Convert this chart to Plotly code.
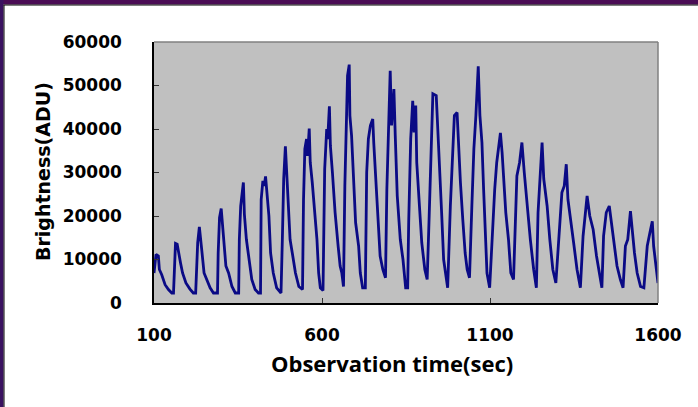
import plotly.graph_objects as go

# Observation time (sec) and brightness (ADU)
time_sec = [
    100, 103, 106, 113, 116, 123, 133, 143, 153, 158,
    160, 164, 169, 173, 179, 185, 195, 207, 217, 224,
    226, 230, 235, 238, 243, 249, 257, 267, 277, 289,
    291, 295, 300, 303, 308, 314, 322, 332, 342, 352,
    354, 358, 366, 369, 375, 382, 391, 401, 411, 417,
    419, 424, 428, 432, 436, 442, 447, 455, 465, 478,
    482, 486, 491, 494, 499, 505, 513, 521, 531, 542,
    545, 549, 554, 557, 562, 565, 571, 577, 585, 590, 595, 603,
    605, 608, 614, 617, 622, 625, 631, 639, 648, 654, 659, 664,
    668, 673, 676, 681, 683, 688, 694, 700, 709, 714, 721, 729,
    733, 738, 744, 751, 754, 763, 769, 773, 781, 789,
    793, 799, 803, 807, 814, 818, 824, 833, 841, 849, 855,
    858, 864, 870, 874, 879, 882, 890, 897, 906, 913,
    919, 925, 930, 940, 944, 949, 956, 962, 968, 974,
    982, 988, 994, 1002, 1006, 1012, 1019, 1026, 1032, 1039,
    1046, 1052, 1058, 1065, 1070, 1076, 1081, 1086, 1091, 1099,
    1106, 1114, 1120, 1126, 1131, 1136, 1141, 1147, 1155, 1162, 1170,
    1175, 1180, 1188, 1195, 1202, 1210, 1220, 1230, 1238,
    1243, 1250, 1255, 1260, 1270, 1278, 1287, 1296,
    1307, 1314, 1321, 1327, 1332, 1339, 1349, 1359, 1369,
    1377, 1383, 1389, 1397, 1407, 1417, 1425, 1433,
    1438, 1446, 1455, 1463, 1470, 1478, 1488, 1496,
    1503, 1510, 1518, 1523, 1530, 1538, 1548, 1558,
    1568, 1576, 1583, 1587, 1595, 1600,
]
brightness_adu = [
    6900, 10000, 11200, 10800, 7700, 6500, 4200, 3100, 2300, 2300,
    6900, 13700, 13500, 11500, 9200, 6900, 4600, 3200, 2300, 2300,
    7700, 13800, 17500, 14600, 11500, 6900, 5400, 3500, 2300, 2300,
    11500, 19600, 21700, 18800, 13800, 8500, 6900, 3800, 2300, 2300,
    14600, 22300, 27700, 20400, 14600, 10000, 5400, 3100, 2300, 2300,
    23800, 28100, 26900, 29100, 25400, 20000, 11500, 6900, 3500, 2300,
    14600, 28500, 36000, 31500, 24600, 14600, 10800, 6900, 3800, 3100,
    23800, 35400, 37700, 33800, 40100, 32300, 27700, 21500, 14600, 6900, 3500, 2900,
    14600, 30800, 40000, 37700, 45200, 36100, 30000, 20800, 13100, 8500, 6900, 3800,
    26900, 43800, 52300, 54800, 43100, 38500, 26900, 18500, 13100, 6900, 3500, 3500,
    30000, 37700, 40800, 42300, 36900, 24600, 18500, 10800, 7700, 5800,
    26100, 43100, 53400, 40800, 49200, 38500, 24600, 14600, 10000, 3500, 3500,
    18500, 37700, 46500, 39200, 45400, 32300, 22300, 13800, 7700, 5400,
    20000, 36100, 48100, 47700, 40000, 33100, 20800, 10000, 6900, 3500,
    22300, 32300, 43100, 43800, 36900, 27700, 19200, 11500, 7700, 5800,
    22300, 35400, 43100, 54400, 43100, 36900, 26100, 14600, 6900, 3500,
    14600, 26100, 32300, 35400, 39100, 34600, 29200, 20800, 14600, 6900, 5400,
    17700, 29200, 32300, 36900, 30000, 22300, 14600, 7700, 3500,
    20800, 30000, 36900, 28500, 22300, 14600, 7700, 4600,
    17700, 25400, 26900, 31900, 23800, 19200, 13800, 7700, 3500,
    15400, 20800, 24600, 20000, 16900, 10800, 6900, 3500,
    15400, 20800, 22300, 17700, 13800, 8500, 5400, 3500,
    13100, 14600, 21100, 16200, 11500, 6900, 3800, 3500,
    13100, 16200, 18800, 13100, 8500, 4600,
]

x_ticks = [100, 600, 1100, 1600]
y_ticks = [0, 10000, 20000, 30000, 40000, 50000, 60000]

W, H = 698, 407
L, R, T, B = 154, 40, 42, 104
pw, ph = W - L - R, H - T - B

def px(x):
    return (x - L) / pw

def py(y):
    return (H - B - y) / ph

fig = go.Figure()
fig.add_trace(go.Scatter(
    x=time_sec, y=brightness_adu, mode="lines",
    line=dict(color="#0a0a85", width=2.8), showlegend=False,
))

tick_font = dict(family="DejaVu Sans", size=17, color="black", weight="bold")

fig.update_layout(
    width=W, height=H,
    margin=dict(l=L, r=R, t=T, b=B),
    paper_bgcolor="white",
    plot_bgcolor="#c0c0c0",
    xaxis=dict(
        range=[100, 1600], tickvals=x_ticks, ticktext=[str(v) for v in x_ticks],
        ticks="inside", ticklen=5, tickcolor="#333333", showgrid=False, zeroline=False,
        showline=True, linecolor="black", linewidth=1.5,
        tickfont=tick_font, ticklabelstandoff=16,
    ),
    yaxis=dict(
        range=[0, 60000], tickvals=y_ticks, ticktext=[str(v) for v in y_ticks],
        ticks="inside", ticklen=5, tickcolor="#333333", showgrid=False, zeroline=False,
        showline=True, linecolor="black", linewidth=1.5,
        tickfont=tick_font, ticklabelstandoff=27,
    ),
    shapes=[
        # plot area top/right border (gray)
        dict(type="line", xref="paper", yref="paper", x0=0, x1=1, y0=1, y1=1,
             line=dict(color="#808080", width=1.5)),
        dict(type="line", xref="paper", yref="paper", x0=1, x1=1, y0=0, y1=1,
             line=dict(color="#808080", width=1.5)),
        # purple slide frame
        dict(type="rect", xref="paper", yref="paper", x0=px(0), x1=px(W), y0=py(0), y1=py(4.5),
             fillcolor="#4a0c55", line=dict(width=0), layer="above"),
        dict(type="rect", xref="paper", yref="paper", x0=px(0), x1=px(3.5), y0=py(H), y1=py(0),
             fillcolor="#3a1260", line=dict(width=0), layer="above"),
        dict(type="line", xref="paper", yref="paper", x0=px(3.5), x1=px(W), y0=py(5), y1=py(5),
             line=dict(color="black", width=1), layer="above"),
        dict(type="line", xref="paper", yref="paper", x0=px(4), x1=px(4), y0=py(H), y1=py(5),
             line=dict(color="black", width=1), layer="above"),
    ],
    annotations=[
        dict(text="Brightness(ADU)", xref="paper", yref="paper", x=px(43), y=py(172),
             xanchor="center", yanchor="middle", textangle=-90, showarrow=False,
             font=dict(family="DejaVu Sans", size=19, color="black", weight="bold")),
        dict(text="Observation time(sec)", xref="paper", yref="paper", x=px(392), y=py(363),
             xanchor="center", yanchor="middle", showarrow=False,
             font=dict(family="Open Sans", size=22, color="black", weight="bold")),
    ],
)

fig.write_html("out.html", config={"displayModeBar": False},
               post_script="document.body.style.margin='0px';")
